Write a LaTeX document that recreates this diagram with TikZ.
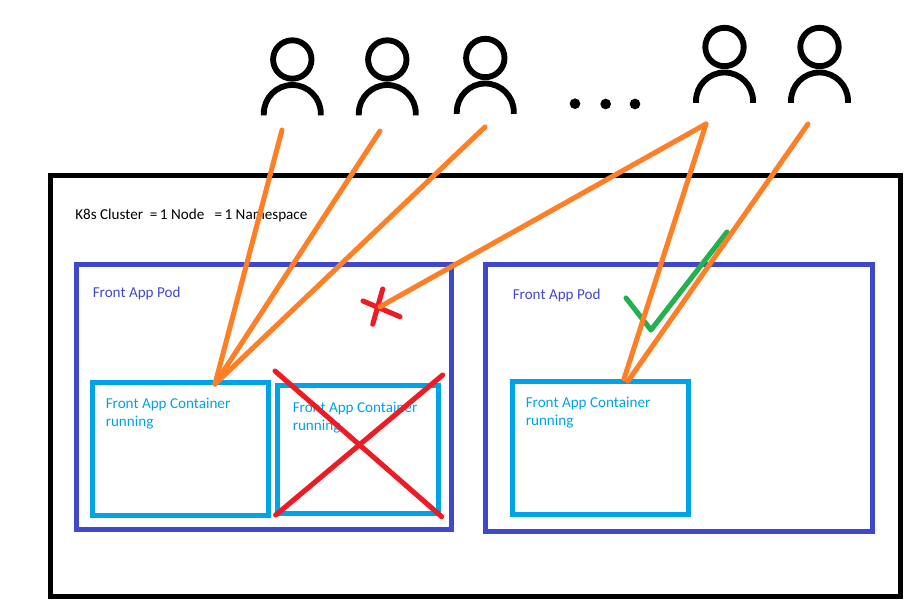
\documentclass[tikz,border=0pt]{standalone}
\usepackage{fontspec}
\setmainfont{Carlito}
\definecolor{podblue}{RGB}{63,72,204}
\definecolor{cblue}{RGB}{0,162,232}
\definecolor{ored}{RGB}{237,28,36}
\definecolor{oorange}{RGB}{255,127,39}
\definecolor{ogreen}{RGB}{34,177,76}
\tikzset{
  x=0.75pt,y=-0.75pt,
  box/.style={draw,rectangle,inner sep=0pt,outer sep=0pt},
  cluster/.style={box,black,line width=3.75pt},
  pod/.style={box,podblue,line width=3.75pt},
  cont/.style={box,cblue,line width=3.75pt},
  lab/.style={inner sep=0pt,anchor=base west,font=\fontsize{11.35pt}{13pt}\selectfont},
  req/.style={oorange,line width=3.8pt,line cap=round},
  cross/.style={ored,line width=3.8pt,line cap=round},
  okmark/.style={ogreen,line width=3.8pt,line cap=round,line join=round},
  person/.style={line width=4.4pt},
}
\newcommand{\userfig}[2]{%
  \draw[person] (#1,#2) circle[radius=14.4pt];
  \draw[person] (#1-28.5,#2+56) -- (#1-28.5,#2+54) .. controls (#1-28.5,#2+38.3) and (#1-15.7,#2+25.5) .. (#1,#2+25.5) .. controls (#1+15.7,#2+25.5) and (#1+28.5,#2+38.3) .. (#1+28.5,#2+54) -- (#1+28.5,#2+56);
}
\begin{document}
\begin{tikzpicture}
\useasboundingbox (0,0) rectangle (924,616);
\userfig{292.3}{59.5}
\userfig{387.3}{59.5}
\userfig{485.3}{58}
\userfig{724.5}{47}
\userfig{819.5}{47}
\fill (575,103.7) circle[radius=4pt] (605.7,104) circle[radius=4pt] (635,104) circle[radius=4pt];
\node[cluster,minimum width=637.6pt,minimum height=315.5pt] (cluster) at (475.4,386.1) {};
\node[pod,minimum width=281.25pt,minimum height=198.4pt] (podA) at (264,396.75) {};
\node[pod,minimum width=290.25pt,minimum height=200pt] (podB) at (679,398.15) {};
\node[cont,minimum width=132pt,minimum height=99.4pt] (contA) at (180.5,449) {};
\node[cont,minimum width=120.75pt,minimum height=95.6pt] (contB) at (358,449.5) {};
\node[cont,minimum width=132pt,minimum height=99.4pt] (contC) at (600.5,447.8) {};
\node[lab] (t1) at (75,220) {K8s Cluster\ \ =\,1 Node\ \ \ =\,1 Namespace};
\node[lab,text=podblue] (t2) at (92.5,298) {Front App Pod};
\node[lab,text=podblue] (t3) at (512.5,300) {Front App Pod};
\node[lab,text=cblue] (t4) at (105.5,408) {Front App Container};
\node[lab,text=cblue] (t5) at (105.5,426) {running};
\node[lab,text=cblue] (t6) at (292.5,412) {Front App Container};
\node[lab,text=cblue] (t7) at (292.5,430) {running};
\node[lab,text=cblue] (t8) at (525.5,407) {Front App Container};
\node[lab,text=cblue] (t9) at (525.5,425) {running};
\coordinate (u1) at (282,130);
\coordinate (u2) at (380,131);
\coordinate (u3) at (485,127);
\coordinate (u4) at (706,124);
\coordinate (u5) at (808,124);
\coordinate (hitA) at (215,384);
\coordinate (hitB) at (380,306.7);
\coordinate (hitC) at (624,379);
\coordinate (hitD) at (628,381);
\draw[cross] (275,371) -- (441.7,516.7);
\draw[cross] (442.7,375) -- (275.7,515);
\draw[cross] (363,301) -- (400,316.7);
\draw[cross] (382.7,289) -- (372.7,324.3);
\draw[okmark] (626,298) -- (651,330) -- (727,232);
\draw[req] (u1) -- (hitA);
\draw[req] (u2) -- (hitA);
\draw[req] (u3) -- (hitA);
\draw[req] (u4) -- (hitB);
\draw[req] (u4) -- (hitC);
\draw[req] (u5) -- (hitD);
\end{tikzpicture}
\end{document}
